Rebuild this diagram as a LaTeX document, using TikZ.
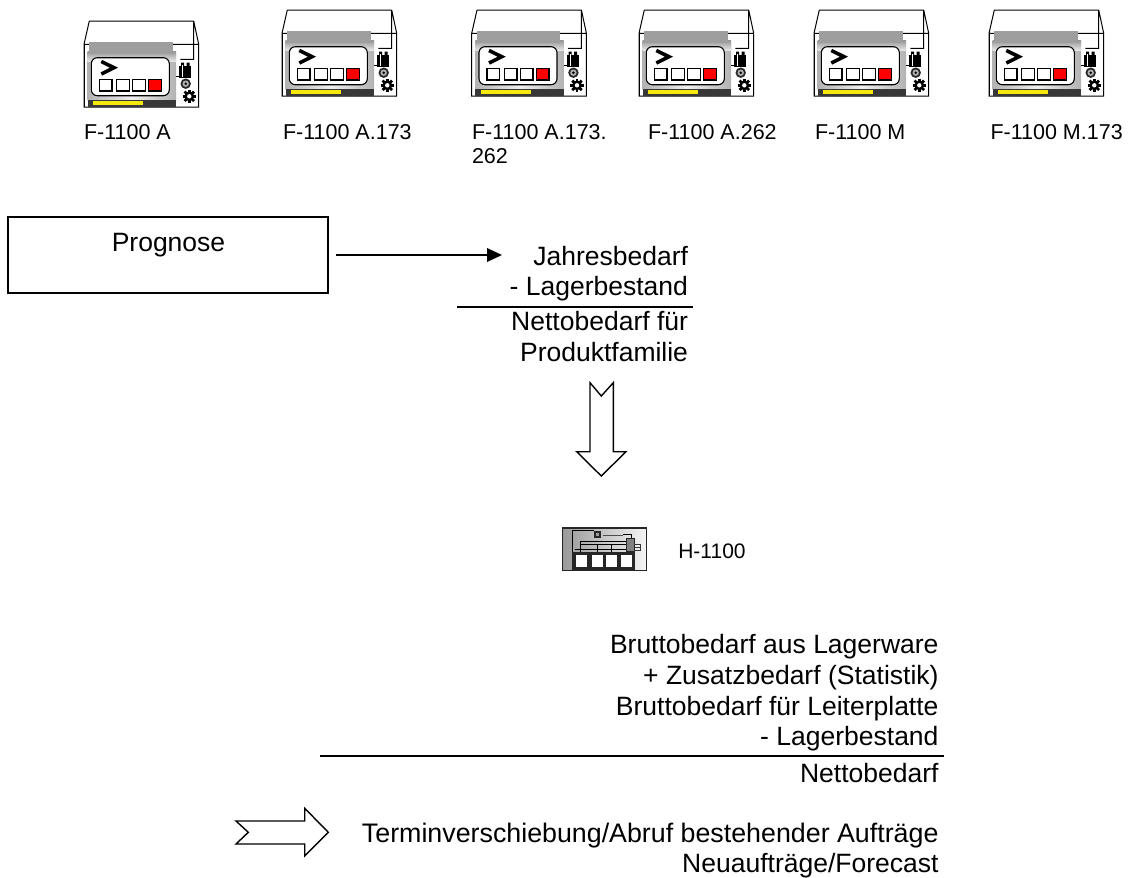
\documentclass[tikz,border=0pt]{standalone}
\usepackage{fontspec}
\setmainfont{Liberation Sans}
\begin{document}
\begin{tikzpicture}[x=1pt,y=-1pt,
  lab/.style={font=\fontsize{21.5}{21.5}\selectfont,anchor=base west,inner sep=0pt,outer sep=0pt},
  big/.style={font=\fontsize{26.5}{26.5}\selectfont,anchor=base east,inner sep=0pt,outer sep=0pt},
  thinl/.style={draw=black,line width=1pt},
  sq/.style={draw=black,line width=1.5pt,fill=white},
  blockarrow/.style={draw=black,line width=1.4pt,fill=white,line join=miter},
  rule/.style={draw=black,line width=1.6pt},
  icon/.pic={
    \draw[thinl] (5.3,0)--(109.7,0) (5.3,0)--(0,23.3)--(0,86)--(114.7,86)--(114.7,23.3)--(109.7,0)
      (0,23.3)--(114.7,23.3) (109.7,0)--(109.7,38.3)--(96.3,38.3);
    \fill[white] (3,23.8) rectangle (92,85);
    \draw[thinl] (0,23.3)--(0,86);
    \shade[left color=black!30,right color=black!30,middle color=black!6] (3.7,32.7) rectangle (92,79.3);
    \shade[top color=black!42,bottom color=black!10] (3.7,30) rectangle (92,40);
    \fill[black!38] (5.3,21) rectangle (88.7,32.7);
    \fill[black!78] (3.7,79.3) rectangle (92,86);
    \fill[yellow!95!black] (9,79.7) rectangle (59,83.7);
    \draw[black,line width=1.1pt,fill=white,rounded corners=6pt] (7.3,36.7) rectangle (85.3,74.7);
    \draw[black,line width=3.6pt,miter limit=10] (17.3,40.5)--(30,46.7)--(17.3,53);
    \draw[sq] (15.3,58.7) rectangle (28,70);
    \draw[sq] (32.7,58.7) rectangle (45.3,70);
    \draw[sq] (48.7,58.7) rectangle (61.3,70);
    \draw[sq,fill=red] (64.7,58.7) rectangle (77.3,70);
    \draw[thinl] (92,55.3)--(95.3,55.3);
    \fill[black] (95.3,44.5) rectangle (107.3,56.7);
    \fill[black] (97,41.5) rectangle (100,45) (102.5,41.5) rectangle (105.5,45);
    \draw[white,line width=0.8pt] (98.8,44)--(98.8,56);
    \fill[black!85] (101.7,62.7) circle (5.2);
    \fill[black!30] (101.7,62.7) circle (3.2);
    \fill[black] (101.7,62.7) circle (1.4);
    \foreach \a in {0,45,...,315}{\fill[black,rotate around={\a:(105.3,75.3)}] (103.9,68.6) rectangle (106.7,72);}
    \fill[black] (105.3,75.3) circle (4.9);
    \fill[white] (105.3,75.3) circle (2.2);
  },
  hicon/.pic={
    \shade[left color=black!40,right color=black!4] (0,0) rectangle (84,42.7);
    \draw[black!85,line width=1.2pt] (0,0) rectangle (84,42.7);
    \draw[black,line width=1pt] (9.7,2.7)--(31.7,2.7) (9.7,2.7)--(9.7,24);
    \draw[black,line width=.9pt] (17.3,13.7)--(63.3,13.7) (17.3,16)--(63.3,16) (12,21.3)--(63.3,21.3) (17.3,13.7)--(17.3,24) (34.7,16)--(34.7,24) (49,16)--(49,24);
    \draw[black!70,line width=1.6pt] (40.7,7.3)--(60.7,7.3);
    \draw[black,line width=.9pt] (60.7,6)--(69,6)--(69,10.3);
    \fill[black!85] (31.2,2.5) rectangle (38.2,9.5);
    \fill[black!40] (33.2,4.5) rectangle (36.2,7.5);
    \draw[black!85,fill=black!50,line width=0.8pt] (63.3,10.3) rectangle (71.3,23.7);
    \draw[black!80,line width=.8pt] (71.3,16)--(78,16) (71.3,19.3)--(78,19.3) (71.3,22.7)--(78,22.7) (78,16)--(78,22.7);
    \fill[black!85] (9.7,23.7) rectangle (72.3,42.7);
    \fill[white] (13,27.3) rectangle (24,38.7);
    \fill[white] (29,27.3) rectangle (40,38.7);
    \fill[white] (43.3,27.3) rectangle (54.3,38.7);
    \fill[white] (58,27.3) rectangle (69,38.7);
  }
]
\useasboundingbox (0,0) rectangle (1130,878);
\pic at (84,21) {icon};
\pic at (282,10) {icon};
\pic at (471.7,10) {icon};
\pic at (639,10) {icon};
\pic at (814,10) {icon};
\pic at (989,10) {icon};
\node[lab] (l1) at (84,139) {F-1100 A};
\node[lab] (l2) at (283,139) {F-1100 A.173};
\node[lab] (l3) at (472,139) {F-1100 A.173.};
\node[lab] (l3b) at (472,163) {262};
\node[lab] (l4) at (648,139) {F-1100 A.262};
\node[lab] (l5) at (815,139) {F-1100 M};
\node[lab] (l6) at (990.5,139) {F-1100 M.173};
\node[draw=black,line width=1.6pt,minimum width=320pt,minimum height=76pt,inner sep=0pt,outer sep=0pt] (prog) at (168,254.7) {};
\node[font=\fontsize{26.5}{26.5}\selectfont,anchor=base,inner sep=0pt] (progt) at (168.5,251.7) {Prognose};
\coordinate (as) at (336,255);
\node[big] (j1) at (688,265.7) {Jahresbedarf};
\node[big] (j2) at (688,295.7) {- Lagerbestand};
\node[big] (j3) at (688,330.7) {Nettobedarf für};
\node[big] (j4) at (688,361) {Produktfamilie};
\coordinate (ae) at (502,255);
\draw[line width=1.3pt] (as)--(488,255);
\fill (ae)--(487,248)--(487,262)--cycle;
\coordinate (r1a) at (457,307); \coordinate (r1b) at (693,307);
\draw[rule] (r1a)--(r1b);
\draw[blockarrow] (590,382.7)--(601.3,396)--(613.3,382.7)--(613.3,451.7)--(626,451.7)--(601.3,476)--(576.7,451.7)--(590,451.7)--cycle;
\pic at (562.7,528) {hicon};
\node[lab,font=\fontsize{21}{21}\selectfont] (h) at (678.3,558.3) {H-1100};
\node[big] (b1) at (938.5,653.3) {Bruttobedarf aus Lagerware};
\node[big] (b2) at (938.5,684.7) {+ Zusatzbedarf (Statistik)};
\node[big] (b3) at (938.5,715) {Bruttobedarf für Leiterplatte};
\node[big] (b4) at (938.5,745) {- Lagerbestand};
\coordinate (r2a) at (320,756); \coordinate (r2b) at (944,756);
\draw[rule] (r2a)--(r2b);
\node[big] (b5) at (938.5,782) {Nettobedarf};
\draw[blockarrow] (236,821)--(304.7,821)--(304.7,808.3)--(328.3,832.3)--(304.7,856)--(304.7,844)--(236,844)--(248.3,832.3)--cycle;
\node[big,font=\fontsize{26.8}{26.8}\selectfont] (t1) at (938.5,842.5) {Terminverschiebung/Abruf bestehender Aufträge};
\node[big] (t2) at (938.5,872.5) {Neuaufträge/Forecast};
\end{tikzpicture}
\end{document}
